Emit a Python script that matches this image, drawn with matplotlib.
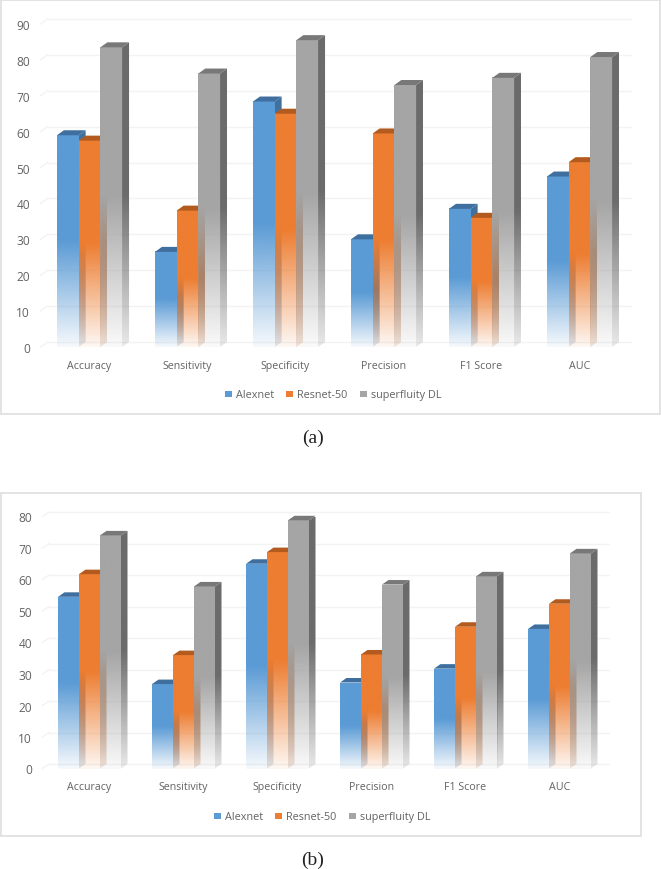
import numpy as np
import matplotlib
matplotlib.use("Agg")
import matplotlib.pyplot as plt
from matplotlib.colors import to_rgb
from matplotlib.patches import Polygon, Rectangle, Patch

categories = ["Accuracy", "Sensitivity", "Specificity", "Precision", "F1 Score", "AUC"]
series_names = ["Alexnet", "Resnet-50", "superfluity DL"]

alexnet_a = [59, 26.5, 68.4, 30, 38.5, 47.5]
resnet_a = [57.5, 38, 65, 59.5, 36, 51.5]
superfluity_a = [83.5, 76.2, 85.5, 73, 75, 80.8]
ticks_a = list(range(0, 100, 10))

alexnet_b = [54.5, 26.8, 65, 27.3, 31.7, 44.3]
resnet_b = [61.7, 36, 68.7, 36.2, 45, 52.3]
superfluity_b = [74, 57.8, 78.8, 58.4, 61, 68.3]
ticks_b = list(range(0, 90, 10))

front_colors = ["#5b9bd5", "#ed7d31", "#a5a5a5"]
side_colors = ["#41719c", "#ae5a21", "#6b6b6b"]
top_colors = ["#3f6f9e", "#b35a1f", "#787878"]
TEXT = "#636363"
W, H = 661, 870

plt.rcParams["font.family"] = ["Open Sans", "DejaVu Sans"]
fig = plt.figure(figsize=(W / 100, H / 100), dpi=100)
fig.patch.set_facecolor("white")


def px_rect(x0, y0, x1, y1):
    return [x0 / W, 1 - y1 / H, (x1 - x0) / W, (y1 - y0) / H]


def gradient(color, height_frac_solid, low_alpha, n=128):
    rgb = to_rgb(color)
    t = np.linspace(0, 1, n)
    a = np.clip(low_alpha + (1 - low_alpha) * t / height_frac_solid, 0, 1)
    arr = np.ones((n, 1, 4))
    arr[:, 0, 0], arr[:, 0, 1], arr[:, 0, 2] = rgb
    arr[:, 0, 3] = a
    return arr


def panel(box, ymax, ticks, series, spacing, bar_px, depth_px, lift_px, grid_extra, label_pad):
    # box: pixel rectangle of the value axes, x from -0.5 to 5.5 and y from 0 to ymax
    ax = fig.add_axes(px_rect(*box))
    ax.patch.set_alpha(0)
    xl, yb = (-0.5, 5.5), (0, ymax)
    unit_y = (box[3] - box[1]) / ymax
    dx = depth_px / spacing
    dy = lift_px / unit_y
    w = bar_px / spacing
    for v in ticks:
        ax.plot([xl[0], xl[0] + dx], [v, v + dy], color="#f3f3f3", lw=1, clip_on=False, zorder=1)
        ax.plot([xl[0] + dx, xl[1] + grid_extra / spacing], [v + dy, v + dy], color="#f3f3f3", lw=1,
                clip_on=False, zorder=1)
    z = 3.0
    for s, vals in enumerate(series):
        offs = (s - 1) * w
        for i, v in enumerate(vals):
            x0 = i + offs - w / 2
            x1 = x0 + w
            ax.imshow(gradient(front_colors[s], 0.5, 0.06), origin="lower", aspect="auto",
                      extent=(x0, x1, 0, v), interpolation="bilinear", zorder=z, clip_on=False)
            side = Polygon([(x1, 0), (x1 + dx, dy), (x1 + dx, v + dy), (x1, v)], closed=True,
                           transform=ax.transData, fc="none", ec="none")
            ax.add_patch(side)
            im2 = ax.imshow(gradient(side_colors[s], 0.5, 0.15), origin="lower", aspect="auto",
                            extent=(x1, x1 + dx, 0, v + dy), interpolation="bilinear", zorder=z + 0.1)
            im2.set_clip_path(side)
            ax.add_patch(Polygon([(x0, v), (x1, v), (x1 + dx, v + dy), (x0 + dx, v + dy)], closed=True,
                                 fc=top_colors[s], ec="none", zorder=z + 0.2, clip_on=False))
            z += 0.3
    ax.set_xlim(*xl)
    ax.set_ylim(*yb)
    ax.set_xticks(range(len(categories)), categories)
    ax.set_yticks(ticks)
    ax.tick_params(axis="both", length=0, labelsize=7.7, labelcolor=TEXT)
    ax.tick_params(axis="x", pad=label_pad)
    ax.tick_params(axis="y", pad=7.5, labelsize=8.6)
    for sp in ax.spines.values():
        sp.set_visible(False)
    return ax


def legend_at(cx, cy):
    handles = [Patch(fc=c, ec="none") for c in front_colors]
    fig.legend(handles, series_names, loc="center", bbox_to_anchor=(cx / W, 1 - cy / H), ncols=3,
               frameon=False, fontsize=7.8, labelcolor=TEXT, handlelength=0.65, handleheight=0.5,
               handletextpad=0.35, columnspacing=1.15, borderpad=0, borderaxespad=0)


def frame(x0, y0, x1, y1):
    fig.add_artist(Rectangle((x0 / W, 1 - y1 / H), (x1 - x0) / W, (y1 - y0) / H, transform=fig.transFigure,
                             fc="none", ec="#e0e0e0", lw=1.3))


frame(1, 0.8, 659.5, 415)
frame(1, 494, 641, 837)

panel((40.5, 25, 628.5, 348), 90, ticks_a, [alexnet_a, resnet_a, superfluity_a],
      98, 21.7, 7, 5, 2, 9.5)
panel((42.5, 517.5, 606.5, 769.5), 80, ticks_b, [alexnet_b, resnet_b, superfluity_b],
      94, 21, 6.5, 4.5, 2, 9)

legend_at(333, 396)
legend_at(322, 818)

serif = ["Liberation Serif", "DejaVu Serif"]
fig.text(313 / W, 1 - 438 / H, "(a)", family=serif, fontsize=14, color="#222222", ha="center", va="center")
fig.text(313 / W, 1 - 860 / H, "(b)", family=serif, fontsize=14, color="#222222", ha="center", va="center")

fig.savefig("out.png", dpi=100)
